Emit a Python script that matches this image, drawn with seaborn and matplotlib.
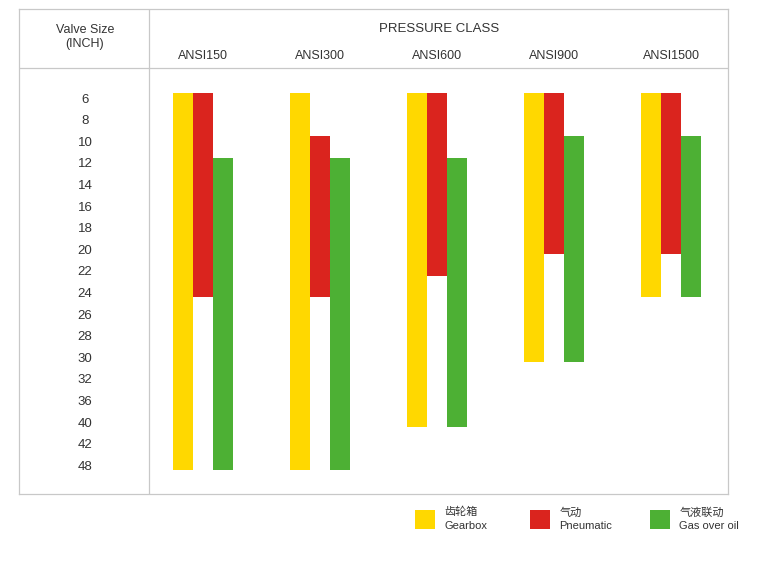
import matplotlib
matplotlib.use("Agg")
import matplotlib.pyplot as plt
import seaborn as sns
import numpy as np
from matplotlib.patches import Patch

# valve sizes (rows) and pressure classes (columns)
SIZES = [6, 8, 10, 12, 14, 16, 18, 20, 22, 24, 26, 28, 30, 32, 36, 40, 42, 48]
CLASSES = ["ANSI150", "ANSI300", "ANSI600", "ANSI900", "ANSI1500"]
ACTUATORS = ["齿轮箱\nGearbox", "气动\nPneumatic", "气液联动\nGas over oil"]
COLORS = ["#FFD800", "#DA241E", "#4DB034"]

# size range covered by each actuator, per class
gearbox_from = [6, 6, 6, 6, 6]
gearbox_to = [48, 48, 40, 30, 24]
pneumatic_from = [6, 10, 6, 6, 6]
pneumatic_to = [24, 24, 22, 20, 20]
gas_oil_from = [12, 12, 12, 10, 10]
gas_oil_to = [48, 48, 40, 30, 24]

series = [(gearbox_from, gearbox_to), (pneumatic_from, pneumatic_to), (gas_oil_from, gas_oil_to)]

sns.set_style("white")
plt.rcParams['font.family'] = ['Liberation Sans', 'Noto Sans CJK SC']
TXT = '#333333'
LINE = '#c8c8c8'

W, H = 757, 565
fig = plt.figure(figsize=(W / 100, H / 100), dpi=100)


def px_box(x0, y0, x1, y1):
    return [x0 / W, 1 - y1 / H, (x1 - x0) / W, (y1 - y0) / H]


# table frame
frame = fig.add_axes(px_box(19, 9, 728, 494))
frame.set_xlim(19, 728)
frame.set_ylim(494, 9)
frame.set_xticks([])
frame.set_yticks([])
for s in frame.spines.values():
    s.set_color(LINE)
    s.set_linewidth(0.9)
frame.axvline(149, color=LINE, lw=0.9)
frame.axhline(68, color=LINE, lw=0.9)
frame.text(85, 37, "Valve Size\n(INCH)", ha='center', va='center', fontsize=9, color=TXT, linespacing=1.3)
frame.text(439, 29, "PRESSURE CLASS", ha='center', va='center', fontsize=9.5, color=TXT)

# bars
ax = fig.add_axes(px_box(149, 68, 728, 494))
ax.patch.set_alpha(0)
row = {s: i for i, s in enumerate(SIZES)}
half = 0.22
bw = 0.171
for k, (lo, hi) in enumerate(series):
    top = np.array([row[s] for s in lo]) - half
    bot = np.array([row[s] for s in hi]) + half
    xpos = np.arange(len(CLASSES)) + (k - 1) * bw
    sns.barplot(x=xpos, y=bot - top, bottom=top, native_scale=True, width=bw,
                color=COLORS[k], saturation=1, errorbar=None, linewidth=0, ax=ax)

ax.set_xlim(-0.4615, 4.487)
ax.set_ylim(18.33, -1.389)
ax.set_xlabel('')
ax.set_ylabel('')
ax.xaxis.tick_top()
ax.set_xticks(range(len(CLASSES)), labels=CLASSES)
ax.set_yticks(range(len(SIZES)), labels=[str(s) for s in SIZES])
ax.tick_params(axis='x', length=0, pad=4, labelsize=9, labelcolor=TXT)
ax.tick_params(axis='y', length=0, pad=46, labelsize=9.5, labelcolor=TXT)
for lab in ax.get_yticklabels():
    lab.set_ha('center')
for s in ax.spines.values():
    s.set_visible(False)

# legend, one entry per box under the table
for k, x_px in enumerate([415, 530, 650]):
    leg = fig.legend([Patch(facecolor=COLORS[k], edgecolor='none')], [ACTUATORS[k]],
                     loc='upper left', bbox_to_anchor=(x_px / W, 1 - 507 / H),
                     frameon=False, fontsize=8, handlelength=1.8, handleheight=2.25,
                     handletextpad=0.85, borderpad=0, borderaxespad=0)
    for t in leg.get_texts():
        t.set_color(TXT)
        t.set_linespacing(1.45)

fig.savefig('out.png', dpi=100)
